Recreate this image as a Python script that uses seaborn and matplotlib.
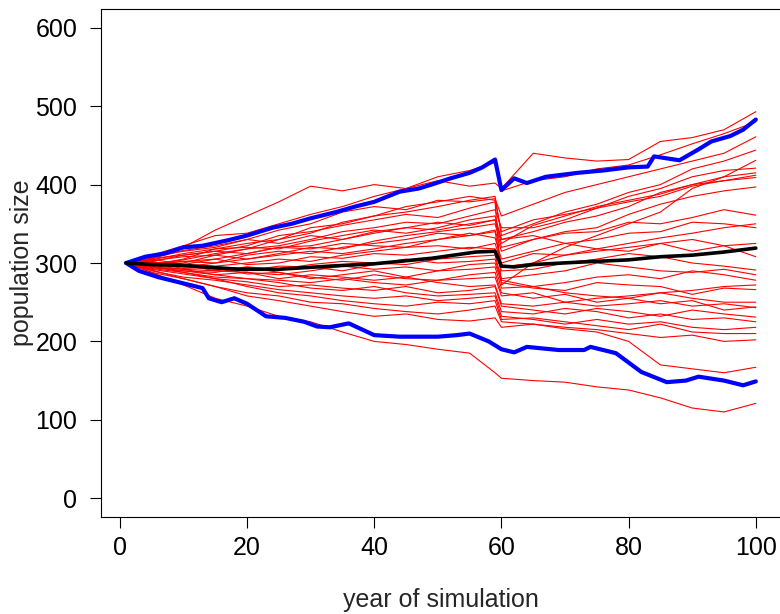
import matplotlib
matplotlib.use("Agg")
import matplotlib.pyplot as plt
import pandas as pd
import seaborn as sns

years = [1, 5, 10, 15, 20, 25, 30, 35, 40, 45, 50, 55, 59, 60, 65, 70, 75, 80, 85, 90, 95, 100]

# simulated population trajectories (red)
runs = [
    [300, 310, 322, 335, 338, 350, 362, 372, 385, 395, 410, 418, 428, 392, 405, 410, 420, 425, 438, 452, 465, 480],
    [300, 305, 320, 342, 360, 378, 398, 392, 400, 395, 405, 398, 402, 395, 440, 434, 430, 432, 455, 460, 470, 493],
    [300, 308, 315, 320, 330, 342, 350, 365, 372, 368, 380, 378, 382, 360, 375, 390, 400, 410, 420, 430, 440, 461],
    [300, 298, 305, 318, 325, 330, 345, 350, 360, 365, 372, 380, 385, 335, 350, 365, 375, 390, 400, 420, 430, 444],
    [300, 302, 310, 315, 322, 335, 340, 348, 355, 362, 358, 370, 378, 272, 300, 320, 335, 350, 365, 395, 410, 431],
    [300, 295, 300, 310, 318, 322, 330, 340, 345, 352, 350, 360, 368, 345, 345, 355, 370, 385, 395, 410, 418, 421],
    [300, 304, 312, 318, 320, 318, 328, 335, 342, 338, 345, 355, 360, 330, 340, 352, 360, 372, 390, 400, 410, 415],
    [300, 296, 298, 305, 312, 320, 322, 330, 340, 345, 352, 348, 355, 325, 348, 360, 372, 380, 388, 400, 405, 409],
    [300, 303, 308, 310, 305, 312, 320, 318, 328, 335, 340, 345, 350, 320, 330, 340, 345, 362, 375, 385, 392, 397],
    [300, 299, 302, 300, 310, 315, 312, 320, 325, 330, 338, 335, 342, 315, 330, 338, 340, 352, 350, 358, 368, 361],
    [300, 306, 310, 315, 312, 320, 318, 325, 322, 320, 330, 338, 332, 305, 315, 325, 330, 338, 340, 352, 350, 345],
    [300, 297, 295, 300, 305, 310, 315, 312, 318, 325, 330, 335, 340, 295, 300, 310, 315, 320, 325, 315, 322, 325],
    [300, 301, 298, 296, 300, 305, 302, 310, 315, 320, 322, 318, 325, 300, 312, 310, 318, 315, 325, 330, 322, 308],
    [300, 298, 302, 305, 298, 300, 308, 306, 312, 310, 315, 320, 318, 290, 292, 300, 305, 312, 308, 300, 296, 291],
    [300, 295, 290, 288, 295, 292, 298, 302, 300, 298, 305, 308, 310, 280, 285, 290, 300, 295, 290, 288, 292, 285],
    [300, 302, 295, 292, 290, 296, 295, 290, 298, 305, 300, 302, 305, 278, 270, 275, 282, 285, 280, 290, 285, 278],
    [300, 297, 292, 290, 288, 285, 290, 296, 292, 295, 290, 298, 300, 275, 268, 265, 275, 272, 270, 260, 268, 266],
    [300, 294, 290, 285, 288, 280, 285, 282, 278, 282, 290, 292, 295, 268, 270, 262, 258, 255, 262, 255, 250, 250],
    [300, 300, 293, 295, 286, 288, 282, 278, 285, 280, 278, 285, 288, 262, 255, 260, 250, 255, 248, 252, 240, 244],
    [300, 296, 288, 282, 280, 278, 275, 280, 275, 272, 278, 280, 282, 258, 262, 250, 245, 248, 252, 245, 248, 243],
    [300, 292, 286, 280, 276, 270, 272, 268, 265, 270, 262, 265, 270, 245, 240, 235, 242, 238, 232, 240, 235, 231],
    [300, 295, 292, 285, 280, 275, 268, 265, 270, 262, 258, 260, 262, 238, 235, 242, 238, 230, 235, 228, 230, 225],
    [300, 290, 282, 278, 272, 266, 262, 258, 255, 258, 252, 255, 258, 232, 228, 222, 228, 222, 225, 218, 215, 218],
    [300, 293, 288, 280, 270, 262, 258, 252, 248, 245, 250, 248, 252, 228, 230, 225, 220, 215, 222, 212, 210, 210],
    [300, 288, 280, 270, 262, 258, 250, 248, 242, 238, 235, 240, 245, 225, 222, 218, 215, 210, 205, 208, 200, 202],
    [300, 291, 280, 270, 258, 252, 245, 238, 232, 235, 228, 226, 230, 218, 222, 216, 212, 200, 170, 165, 160, 167],
    [300, 288, 272, 255, 245, 232, 225, 212, 200, 196, 190, 185, 160, 153, 150, 148, 142, 138, 128, 115, 110, 121],
    [300, 305, 298, 290, 295, 288, 280, 285, 290, 282, 275, 270, 272, 248, 245, 250, 255, 258, 262, 265, 270, 272],
    [300, 306, 316, 322, 330, 325, 335, 330, 338, 345, 342, 350, 355, 330, 335, 325, 318, 325, 332, 338, 345, 350],
    [300, 298, 304, 312, 318, 330, 338, 352, 360, 372, 378, 385, 380, 340, 355, 362, 370, 378, 385, 398, 405, 412],
]

# mean trajectory (black)
mean_years = [1, 5, 10, 15, 19, 25, 33, 40, 49, 56, 59, 60, 62, 65, 72, 80, 85, 90, 95, 100]
mean_pop = [300, 298, 297, 294, 292, 292, 296, 299, 306, 314, 315, 296, 295, 298, 301, 304, 308, 310, 314, 319]

# upper and lower bounds (blue)
upper_years = [1, 4, 7, 10, 13, 17, 20, 24, 27, 30, 34, 37, 40, 44, 47, 49, 52, 55, 57, 59,
               60, 62, 64, 67, 72, 76, 80, 83, 84, 88, 91, 93, 96, 98, 100]
upper_pop = [300, 308, 312, 320, 322, 329, 335, 345, 350, 357, 365, 372, 378, 391, 395, 400, 408, 415, 422, 432,
             393, 408, 402, 410, 415, 418, 422, 423, 436, 431, 445, 455, 462, 470, 483]
lower_years = [1, 3, 6, 9, 13, 14, 16, 18, 20, 23, 26, 29, 31, 33, 36, 40, 44, 47, 50, 53, 55, 58,
               60, 62, 64, 69, 73, 74, 78, 82, 86, 89, 91, 95, 98, 100]
lower_pop = [300, 290, 282, 276, 268, 255, 250, 255, 248, 232, 230, 225, 219, 218, 223, 208, 206, 206, 206, 208, 210, 200,
             190, 186, 193, 189, 189, 193, 185, 161, 148, 150, 155, 150, 144, 149]

df_runs = pd.DataFrame(
    [(i, y, v) for i, run in enumerate(runs) for y, v in zip(years, run)],
    columns=["run", "year", "pop"],
)

sns.set_style("ticks")
plt.rcParams["font.family"] = ["Liberation Sans", "DejaVu Sans"]

fig = plt.figure(figsize=(7.8, 6.14), dpi=100)
# axes box runs past the right edge, as in the cropped original
ax = fig.add_axes([101 / 780, 97 / 614, 680 / 780, 508 / 614])

sns.lineplot(data=df_runs, x="year", y="pop", units="run", estimator=None,
             color="red", lw=0.8, ax=ax, legend=False)
sns.lineplot(x=upper_years, y=upper_pop, color="blue", lw=3, ax=ax)
sns.lineplot(x=lower_years, y=lower_pop, color="blue", lw=3, ax=ax)
sns.lineplot(x=mean_years, y=mean_pop, color="black", lw=2.6, ax=ax)

ax.set_xlim(-2.96, 103.96)
ax.set_ylim(-24, 624)
ax.set_xticks(range(0, 101, 20))
ax.set_yticks(range(0, 601, 100))
ax.tick_params(direction="out", length=8, width=0.8, color="black",
               labelsize=18, labelcolor="black")
ax.tick_params(axis="y", pad=9)
ax.tick_params(axis="x", pad=6)
for s in ax.spines.values():
    s.set_color("black")
    s.set_linewidth(0.8)

ax.set_xlabel("year of simulation", fontsize=18, labelpad=20)
ax.set_ylabel("population size", fontsize=18, labelpad=1)

fig.savefig("out.png", dpi=100)
